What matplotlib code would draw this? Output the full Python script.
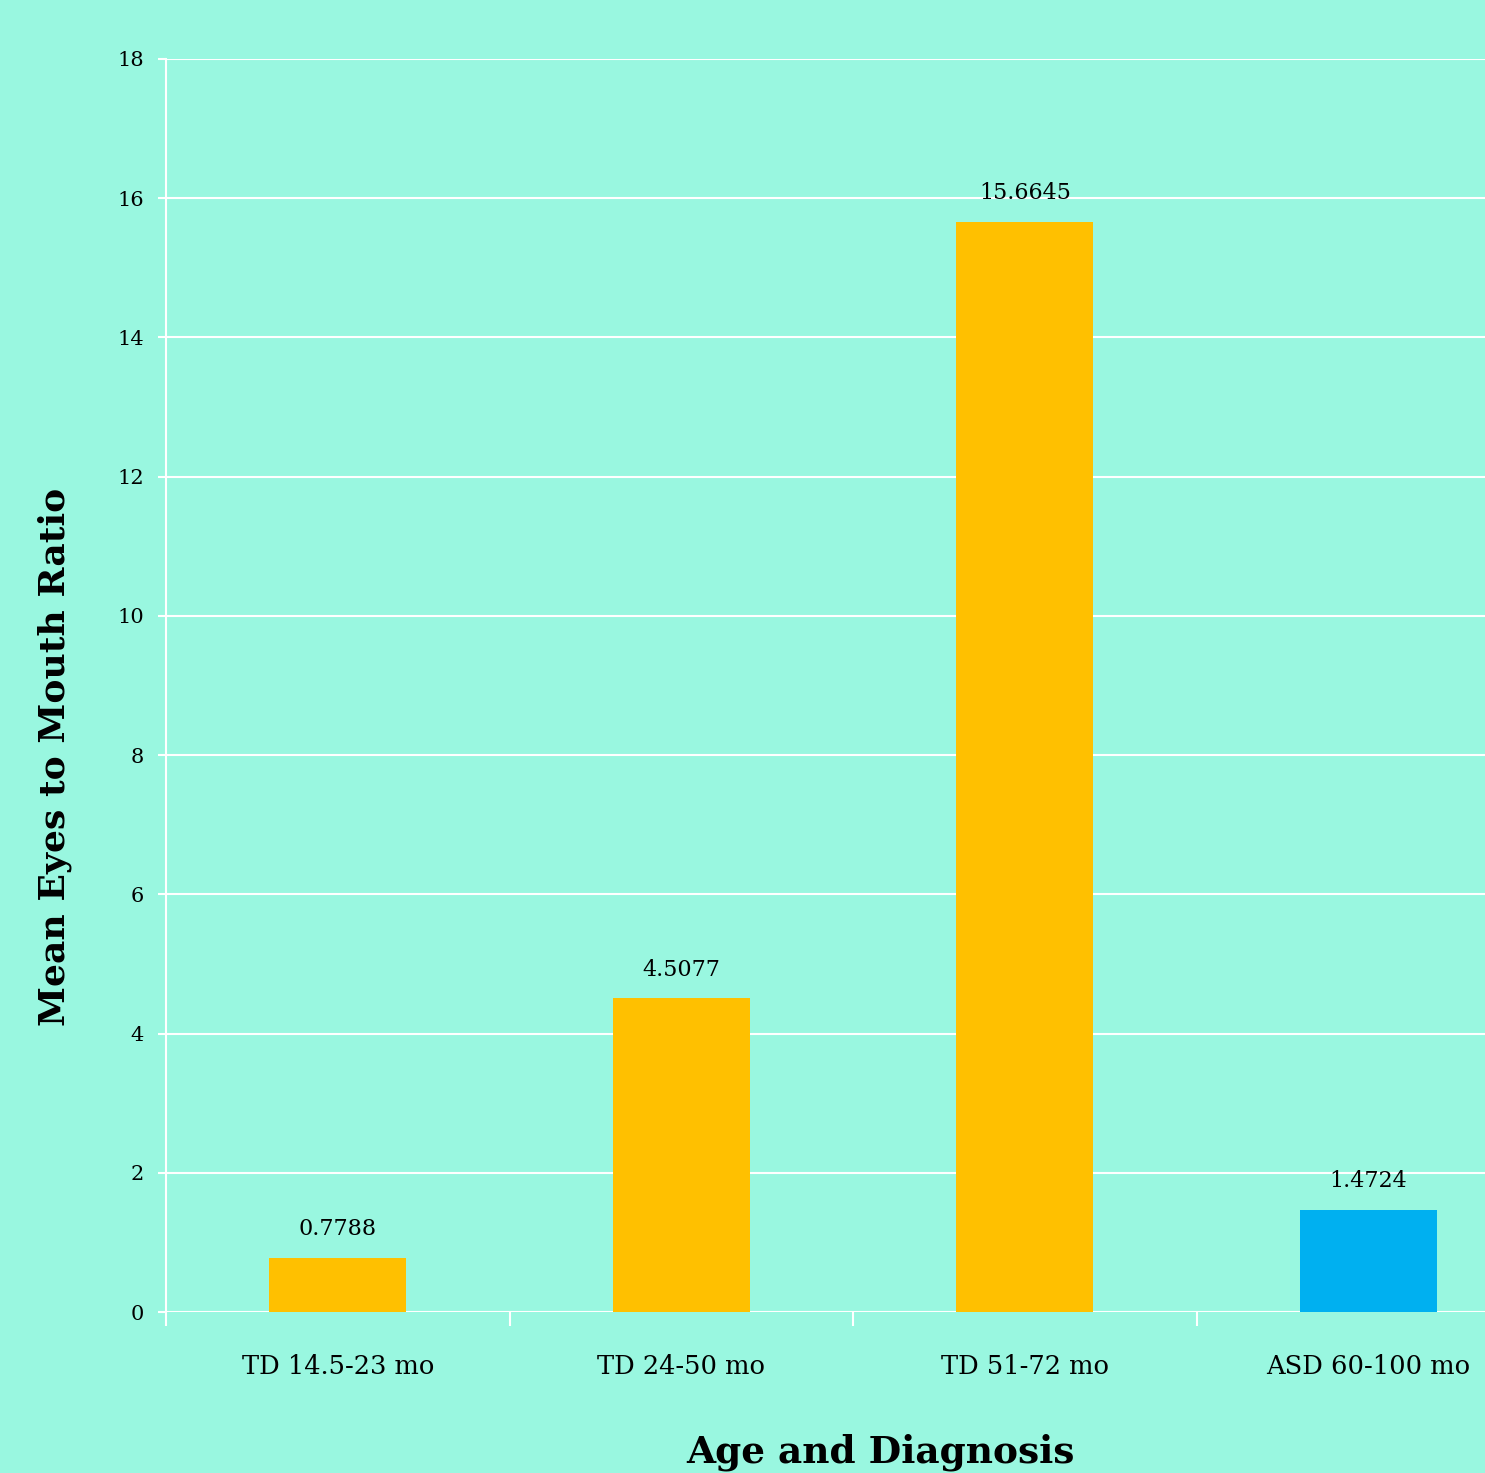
import matplotlib.pyplot as plt

# bar data
categories = ['TD 14.5-23 mo', 'TD 24-50 mo', 'TD 51-72 mo', 'ASD 60-100 mo']
ratios = [0.7788, 4.5077, 15.6645, 1.4724]
bar_colors = ['#FFC000', '#FFC000', '#FFC000', '#00B0F0']
value_labels = ['0.7788', '4.5077', '15.6645', '1.4724']

bg = '#99F7E0'
plt.rcParams['font.family'] = ['DejaVu Serif']

fig = plt.figure(figsize=(14.85, 14.73), dpi=100, facecolor=bg)
# axes run past the right edge, as in the original
ax = fig.add_axes([166 / 1485, 1 - 1312 / 1473, 1374 / 1485, 1253 / 1473])
ax.set_facecolor(bg)

x = list(range(len(categories)))
ax.bar(x, ratios, width=0.4, color=bar_colors, zorder=3)
for xi, v, lab in zip(x, ratios, value_labels):
    ax.text(xi, v + 0.25, lab, ha='center', va='bottom', fontsize=16, zorder=4)

ax.set_xlim(-0.5, len(categories) - 0.5)
ax.set_ylim(0, 18)
ax.set_yticks(range(0, 19, 2))
ax.tick_params(axis='y', labelsize=15, color='white', length=6, width=1.5, pad=10)
ax.grid(axis='y', color='white', linewidth=1.5, zorder=0)

ax.set_xticks([i + 0.5 for i in x[:-1]] + [-0.5], minor=True)
ax.set_xticks(x)
ax.set_xticklabels(categories, fontsize=18.5)
ax.tick_params(axis='x', which='major', length=0, pad=30)
ax.tick_params(axis='x', which='minor', color='white', length=10, width=1.5)

for side in ['top', 'right', 'bottom']:
    ax.spines[side].set_visible(False)
ax.spines['left'].set_color('white')
ax.spines['left'].set_linewidth(1.5)

fig.text(880 / 1485, 1 - 1452 / 1473, 'Age and Diagnosis', ha='center', va='center',
         fontsize=27, fontweight='bold')
fig.text(55 / 1485, 1 - 757 / 1473, 'Mean Eyes to Mouth Ratio', ha='center', va='center',
         rotation=90, fontsize=26, fontweight='bold')

fig.savefig('out.png', dpi=100, facecolor=bg)
